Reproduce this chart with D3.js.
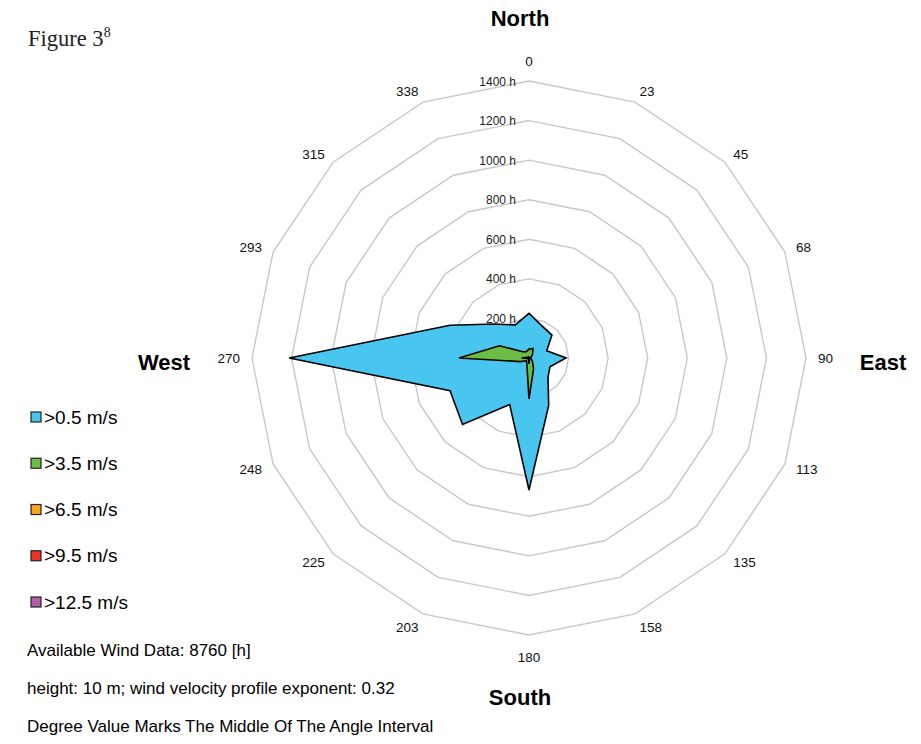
<!DOCTYPE html>
<html>
<head>
<meta charset="utf-8">
<script src="https://cdn.jsdelivr.net/npm/d3@7"></script>
<style>
  html, body { margin: 0; padding: 0; background: #fff; }
  svg { display: block; }
</style>
</head>
<body>
<svg id="chart" width="921" height="744"></svg>
<script>
// Direction labels (degrees, rounded to the middle of each 22.5° sector)
const directions = ["0", "23", "45", "68", "90", "113", "135", "158",
                    "180", "203", "225", "248", "270", "293", "315", "338"];

// Hours per direction for each wind-speed class
const hours05  = [226, 174, 164, 97, 187, 115, 136, 260, 667, 255, 475, 432, 1212, 432, 243, 181];
const hours35  = [45, 52, 25, 12, 10, 12, 25, 60, 207, 29, 20, 48, 354, 162, 45, 35];
const hours65  = [6, 5, 3, 2, 3, 2, 3, 6, 30, 8, 4, 6, 37, 10, 6, 5];
const hours95  = [1, 1, 0, 0, 0, 0, 0, 1, 5, 2, 1, 1, 6, 2, 1, 1];
const hours125 = [0, 0, 0, 0, 0, 0, 0, 0, 1, 0, 0, 0, 1, 0, 0, 0];

const seriesNames  = [">0.5 m/s", ">3.5 m/s", ">6.5 m/s", ">9.5 m/s", ">12.5 m/s"];
const seriesColors = ["#48C6EF", "#6BBD45", "#F9A51D", "#E93423", "#B55DA8"];
const seriesValues = [hours05, hours35, hours65, hours95, hours125];

const ringTicks = [200, 400, 600, 800, 1000, 1200, 1400];

const svg = d3.select("#chart");
const cx = 529, cy = 358;
const rMax = 277;

const r = d3.scaleLinear().domain([0, 1400]).range([0, rMax]);
const angle = d3.scaleLinear().domain([0, directions.length]).range([0, 2 * Math.PI]);

const g = svg.append("g").attr("transform", `translate(${cx},${cy})`);

// Polygonal grid rings
const ringLine = d3.lineRadial()
  .angle((d, i) => angle(i))
  .radius(d => r(d))
  .curve(d3.curveLinearClosed);

g.selectAll("path.ring")
  .data(ringTicks)
  .join("path")
  .attr("class", "ring")
  .attr("d", t => ringLine(directions.map(() => t)))
  .attr("fill", "none")
  .attr("stroke", "#C8C8C8")
  .attr("stroke-width", 1.4);

// Ring value labels along the north axis
g.selectAll("text.ringLabel")
  .data(ringTicks)
  .join("text")
  .attr("class", "ringLabel")
  .attr("x", -13)
  .attr("y", t => -r(t) + 4.5)
  .attr("text-anchor", "end")
  .attr("font-family", "Liberation Sans, Arial, sans-serif")
  .attr("font-size", 12)
  .attr("fill", "#222")
  .text(t => `${t} h`);

// Data polygons, largest class first
const dataLine = d3.lineRadial()
  .angle((d, i) => angle(i))
  .radius(d => r(d))
  .curve(d3.curveLinearClosed);

g.selectAll("path.series")
  .data(seriesValues)
  .join("path")
  .attr("class", "series")
  .attr("d", v => dataLine(v))
  .attr("fill", (v, i) => seriesColors[i])
  .attr("stroke", "#000")
  .attr("stroke-width", 1.6)
  .attr("stroke-linejoin", "miter");

// Direction labels around the rose: side labels hug the outer ring,
// top and bottom labels sit centred just beyond it
const labelR = 289;
g.selectAll("text.dir")
  .data(directions)
  .join("text")
  .attr("class", "dir")
  .each(function (d, i) {
    const a = angle(i);
    const s = Math.sin(a), c = Math.cos(a);
    const side = Math.abs(s) < 0.1 ? "middle" : (s > 0 ? "start" : "end");
    const extra = side === "middle" ? 8 : 0;
    d3.select(this)
      .attr("x", labelR * s)
      .attr("y", -(labelR + extra) * c + 5 + (c < -0.9 ? 2 : 0))
      .attr("text-anchor", side);
  })
  .attr("font-family", "Liberation Sans, Arial, sans-serif")
  .attr("font-size", 13.5)
  .attr("fill", "#111")
  .text(d => d);

// Compass point captions
const compass = [
  { t: "North", x: 520, y: 26 },
  { t: "South", x: 520, y: 705 },
  { t: "West",  x: 164, y: 370 },
  { t: "East",  x: 883, y: 370 }
];
svg.selectAll("text.compass")
  .data(compass)
  .join("text")
  .attr("class", "compass")
  .attr("x", d => d.x)
  .attr("y", d => d.y)
  .attr("text-anchor", "middle")
  .attr("font-family", "Liberation Sans, Arial, sans-serif")
  .attr("font-weight", "bold")
  .attr("font-size", 22)
  .attr("fill", "#000")
  .text(d => d.t);

// Legend
const legend = svg.append("g");
const legendY = d3.scalePoint().domain(seriesNames).range([417, 602]);
legend.selectAll("rect")
  .data(seriesNames)
  .join("rect")
  .attr("x", 31)
  .attr("y", d => legendY(d) - 5)
  .attr("width", 10)
  .attr("height", 10)
  .attr("fill", (d, i) => seriesColors[i])
  .attr("stroke", "#222")
  .attr("stroke-width", 1.2);
legend.selectAll("text")
  .data(seriesNames)
  .join("text")
  .attr("x", 44)
  .attr("y", d => legendY(d) + 6.5)
  .attr("font-family", "Liberation Sans, Arial, sans-serif")
  .attr("font-size", 19)
  .attr("fill", "#000")
  .text(d => d);

// Notes
const notes = [
  "Available Wind Data: 8760 [h]",
  "height: 10 m; wind velocity profile exponent: 0.32",
  "Degree Value Marks The Middle Of The Angle Interval"
];
svg.selectAll("text.note")
  .data(notes)
  .join("text")
  .attr("class", "note")
  .attr("x", 27)
  .attr("y", (d, i) => 656 + i * 38)
  .attr("font-family", "Liberation Sans, Arial, sans-serif")
  .attr("font-size", 17)
  .attr("fill", "#000")
  .text(d => d);

// Figure caption
const cap = svg.append("text")
  .attr("x", 28)
  .attr("y", 46)
  .attr("font-family", "Liberation Serif, serif")
  .attr("font-size", 22.5)
  .attr("fill", "#222");
cap.append("tspan").text("Figure 3");
cap.append("tspan").attr("dy", -9).attr("font-size", 14).text("8");
</script>
</body>
</html>
